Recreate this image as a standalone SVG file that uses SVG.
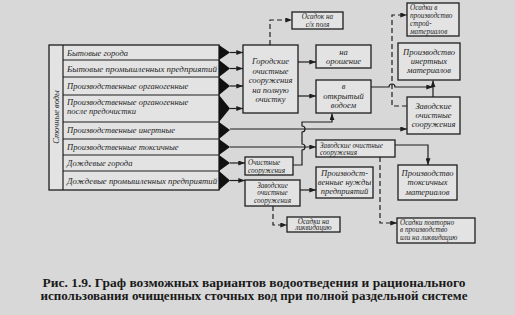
<svg xmlns="http://www.w3.org/2000/svg" width="515" height="315" viewBox="0 0 515 315">
<defs>
<marker id="ah" viewBox="0 0 8 6" refX="8" refY="3" markerWidth="7" markerHeight="5" orient="auto" markerUnits="userSpaceOnUse">
<path d="M0,0 L8,3 L0,6 z" fill="#1e1e1e"/>
</marker>
<style>
.bg{fill:#d8d8d8}
.box{fill:#e3e3e3;stroke:#1e1e1e;stroke-width:1.3}
.ln{fill:none;stroke:#1e1e1e;stroke-width:1.2}
.arr{fill:none;stroke:#1e1e1e;stroke-width:1.2;marker-end:url(#ah)}
.dash{fill:none;stroke:#1e1e1e;stroke-width:1.2;stroke-dasharray:5,3}
.dasharr{fill:none;stroke:#1e1e1e;stroke-width:1.2;stroke-dasharray:5,3;marker-end:url(#ah)}
.t{font-family:"Liberation Serif","DejaVu Serif",serif;font-style:italic;font-size:8.5px;fill:#1e1e1e}
.c{text-anchor:middle}
.s{font-size:7.2px}
.cap{font-family:"Liberation Serif","DejaVu Serif",serif;font-weight:bold;font-size:12px;fill:#1a1a1a;text-anchor:middle}
</style>
</defs>
<rect class="bg" x="0" y="0" width="515" height="315"/>

<g id="sources">
<rect x="49" y="45" width="170" height="145" fill="#e3e3e3" stroke="#1e1e1e" stroke-width="1.3"/>
<line class="ln" x1="63" y1="45" x2="63" y2="190"/>
<g class="ln">
<line x1="63" y1="60" x2="219" y2="60"/>
<line x1="63" y1="77" x2="219" y2="77"/>
<line x1="63" y1="95" x2="219" y2="95"/>
<line x1="63" y1="122" x2="219" y2="122"/>
<line x1="63" y1="139" x2="219" y2="139"/>
<line x1="63" y1="155" x2="219" y2="155"/>
<line x1="63" y1="171" x2="219" y2="171"/>
</g>
<g fill="#111">
<polygon points="219,45 230,52.5 219,60"/>
<polygon points="219,60 230,68.5 219,77"/>
<polygon points="219,77 230,86 219,95"/>
<polygon points="219,95 230,108.5 219,122"/>
<polygon points="219,122 230,130 219,139"/>
<polygon points="219,139 230,147 219,155"/>
<polygon points="219,155 230,163 219,171"/>
<polygon points="219,171 230,180.5 219,190"/>
</g>
<text class="t" x="59" y="117" text-anchor="middle" transform="rotate(-90 59 117)">Сточные воды</text>
<text class="t" x="67" y="55.5">Бытовые города</text>
<text class="t" x="67" y="71.5" textLength="150" lengthAdjust="spacingAndGlyphs">Бытовые промышленных предприятий</text>
<text class="t" x="67" y="89">Производственные органогенные</text>
<text class="t" x="67" y="105">Производственные органогенные</text>
<text class="t" x="67" y="114">после предочистки</text>
<text class="t" x="67" y="133">Производственные инертные</text>
<text class="t" x="67" y="150">Производственные токсичные</text>
<text class="t" x="67" y="166">Дождевые города</text>
<text class="t" x="67" y="183.5" textLength="150" lengthAdjust="spacingAndGlyphs">Дождевые промышленных предприятий</text>
</g>

<g id="connectors">
<path class="arr" d="M230,52.5 H243"/>
<path class="arr" d="M230,68.5 H243"/>
<path class="arr" d="M230,86 H243"/>
<path class="arr" d="M230,108.5 H243"/>
<path class="arr" d="M230,129 H407"/>
<path class="arr" d="M230,147 H316"/>
<path class="arr" d="M230,163 H245"/>
<path class="arr" d="M230,180.5 H245"/>
<path class="arr" d="M298,62 H316"/>
<path class="arr" d="M298,96 H316"/>
<path class="dasharr" d="M270,45 V20 H292"/>
<path class="arr" d="M293,165 H302 V150 a3,3 0 0 0 0,-6 V132 a3,3 0 0 0 0,-6 V122 H332 V113.5"/>
<path class="arr" d="M371,87 H389 a3,3 0 0 1 6,0 H433"/>
<path class="arr" d="M433,97 V80.5"/>
<path class="dasharr" d="M407,106 H392 V15 H407"/>
<path class="arr" d="M395,145 H428 V165"/>
<path class="dasharr" d="M380,157 V223 H397"/>
<path class="arr" d="M300,190 H316"/>
<path class="dasharr" d="M273,206 V225 H287"/>
</g>

<g id="n-city">
<rect class="box" x="243" y="45" width="55" height="68"/>
<text class="t c" x="270.5" y="64">Городские</text>
<text class="t c" x="270.5" y="73.5">очистные</text>
<text class="t c" x="270.5" y="83">сооружения</text>
<text class="t c" x="270.5" y="92.5">на полную</text>
<text class="t c" x="270.5" y="102">очистку</text>
</g>
<g id="n-fields">
<rect class="box" x="292" y="12" width="51" height="17"/>
<text class="t c s" x="317.5" y="19">Осадок на</text>
<text class="t c s" x="317.5" y="26.5">с/х поля</text>
</g>
<g id="n-irrig">
<rect class="box" x="316" y="45" width="55" height="23"/>
<text class="t c" x="343.5" y="55">на</text>
<text class="t c" x="343.5" y="64">орошение</text>
</g>
<g id="n-water">
<rect class="box" x="316" y="80" width="55" height="33"/>
<text class="t c" x="343.5" y="89">в</text>
<text class="t c" x="343.5" y="98.5">открытый</text>
<text class="t c" x="343.5" y="108">водоем</text>
</g>
<g id="n-buildmat">
<rect class="box" x="407" y="3" width="52" height="33"/>
<text class="t s" x="410" y="10">Осадки в</text>
<text class="t s" x="410" y="18">производство</text>
<text class="t s" x="410" y="26">строй-</text>
<text class="t s" x="410" y="33.5">материалов</text>
</g>
<g id="n-inert">
<rect class="box" x="398" y="43" width="62" height="37"/>
<text class="t c" x="429" y="55">Производство</text>
<text class="t c" x="429" y="64">инертных</text>
<text class="t c" x="429" y="73">материалов</text>
</g>
<g id="n-plant-r">
<rect class="box" x="407" y="97" width="53" height="37"/>
<text class="t c" x="433.5" y="109">Заводские</text>
<text class="t c" x="433.5" y="118">очистные</text>
<text class="t c" x="433.5" y="127">сооружения</text>
</g>
<g id="n-plant-m">
<rect class="box" x="316" y="140" width="79" height="17"/>
<text class="t s" x="320" y="147.5">Заводские очистные</text>
<text class="t s" x="320" y="155">сооружения</text>
</g>
<g id="n-toxic">
<rect class="box" x="398" y="165" width="59" height="35"/>
<text class="t c" x="427.5" y="176">Производство</text>
<text class="t c" x="427.5" y="185">токсичных</text>
<text class="t c" x="427.5" y="194.5">материалов</text>
</g>
<g id="n-repeat">
<rect class="box" x="397" y="218" width="78" height="25"/>
<text class="t s" x="400" y="225">Осадки повторно</text>
<text class="t s" x="400" y="232">в производство</text>
<text class="t s" x="400" y="239.5">или на ликвидацию</text>
</g>
<g id="n-treat">
<rect class="box" x="245" y="157" width="48" height="18"/>
<text class="t s" x="248" y="164.5">Очистные</text>
<text class="t s" x="248" y="172.5">сооружения</text>
</g>
<g id="n-plant-l">
<rect class="box" x="245" y="180" width="55" height="26"/>
<text class="t c s" x="272.5" y="187.5">Заводские</text>
<text class="t c s" x="272.5" y="195">очистные</text>
<text class="t c s" x="272.5" y="202.5">сооружения</text>
</g>
<g id="n-needs">
<rect class="box" x="316" y="167" width="57" height="31"/>
<text class="t c" x="344.5" y="176">Производст-</text>
<text class="t c" x="344.5" y="185">венные нужды</text>
<text class="t c" x="344.5" y="194">предприятий</text>
</g>
<g id="n-liquid">
<rect class="box" x="287" y="217" width="53" height="15"/>
<text class="t c s" x="313.5" y="223.5">Осадки на</text>
<text class="t c s" x="313.5" y="230">ликвидацию</text>
</g>

<g id="caption">
<text class="cap" x="254" y="287" textLength="423" lengthAdjust="spacingAndGlyphs">Рис. 1.9. Граф возможных вариантов водоотведения и рационального</text>
<text class="cap" x="254" y="300" textLength="427" lengthAdjust="spacingAndGlyphs">использования очищенных сточных вод при полной раздельной системе</text>
</g>
</svg>
